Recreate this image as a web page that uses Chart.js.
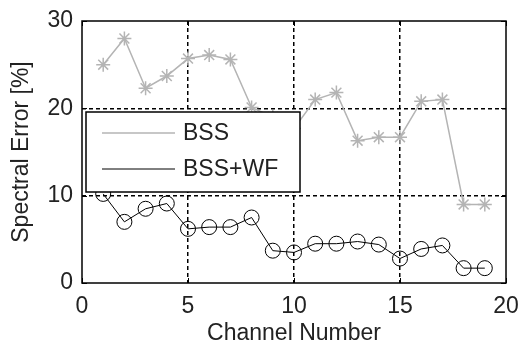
<!DOCTYPE html>
<html>
<head>
<meta charset="utf-8">
<script src="https://cdn.jsdelivr.net/npm/chart.js@4"></script>
<style>
  body { margin: 0; background: #fff; }
</style>
</head>
<body>
<canvas id="errChart" width="518" height="345"></canvas>
<script>
const channels = [1, 2, 3, 4, 5, 6, 7, 8, 9, 10, 11, 12, 13, 14, 15, 16, 17, 18, 19];
const bss = [25.0, 28.0, 22.3, 23.7, 25.7, 26.1, 25.6, 20.1, 19.0, 17.7, 21.0, 21.8, 16.3, 16.7, 16.7, 20.8, 21.0, 9.0, 9.0];
const bssWf = [10.2, 7.0, 8.5, 9.1, 6.2, 6.4, 6.4, 7.5, 3.7, 3.5, 4.5, 4.5, 4.75, 4.4, 2.8, 3.9, 4.3, 1.7, 1.7];
const xTicks = [0, 5, 10, 15, 20];
const yTicks = [0, 10, 20, 30];

const FONT = 'Liberation Sans, Arial, sans-serif';
const GRAY = '#b4b4b4';
const TEXT = '#222';

const toPoints = (vals) => channels.map((c, i) => ({ x: c, y: vals[i] }));

// box round the axes, inner tick marks and the legend box
const boxPlugin = {
    id: 'matlabBox',
    afterDatasetsDraw(chart) {
        const { ctx, chartArea: a, scales } = chart;
        ctx.save();
        ctx.strokeStyle = '#000';
        ctx.lineWidth = 1;
        ctx.setLineDash([]);
        ctx.beginPath();
        xTicks.forEach(v => {
            const px = Math.round(scales.x.getPixelForValue(v)) + 0.5;
            ctx.moveTo(px, a.bottom); ctx.lineTo(px, a.bottom - 5);
            ctx.moveTo(px, a.top); ctx.lineTo(px, a.top + 5);
        });
        yTicks.forEach(v => {
            const py = Math.round(scales.y.getPixelForValue(v)) + 0.5;
            ctx.moveTo(a.left, py); ctx.lineTo(a.left + 5, py);
            ctx.moveTo(a.right, py); ctx.lineTo(a.right - 5, py);
        });
        ctx.stroke();
        ctx.lineWidth = 1.5;
        ctx.strokeRect(a.left, a.top, a.right - a.left, a.bottom - a.top);

        // legend
        const lx = a.left + 4, ly = 112, lw = 214, lh = 80;
        ctx.fillStyle = '#fff';
        ctx.fillRect(lx, ly, lw, lh);
        ctx.lineWidth = 1.5;
        ctx.strokeRect(lx, ly, lw, lh);
        ctx.font = '23px ' + FONT;
        ctx.textBaseline = 'middle';
        chart.data.datasets.forEach((ds, i) => {
            const y = ly + 21 + i * 36;
            ctx.strokeStyle = ds.borderColor;
            ctx.lineWidth = ds.borderWidth;
            ctx.beginPath();
            ctx.moveTo(lx + 16, y); ctx.lineTo(lx + 89, y);
            ctx.stroke();
            ctx.fillStyle = TEXT;
            ctx.fillText(ds.label, lx + 97, y + 1);
        });
        ctx.restore();
    }
};

const gridColor = (edge) => (c) => (c.tick && edge.includes(c.tick.value)) ? 'rgba(0,0,0,0)' : '#000';

new Chart(document.getElementById('errChart'), {
    type: 'line',
    data: {
        datasets: [
            {
                label: 'BSS',
                data: toPoints(bss),
                borderColor: GRAY,
                backgroundColor: 'rgba(0,0,0,0)',
                borderWidth: 1.5,
                pointStyle: 'star',
                pointRadius: 7,
                pointBorderWidth: 1.5,
                tension: 0
            },
            {
                label: 'BSS+WF',
                data: toPoints(bssWf),
                borderColor: '#000',
                backgroundColor: 'rgba(0,0,0,0)',
                borderWidth: 1,
                pointStyle: 'circle',
                pointRadius: 7.5,
                pointBorderWidth: 1,
                tension: 0
            }
        ]
    },
    options: {
        responsive: false,
        animation: false,
        layout: { padding: { left: 0, right: 12, top: 21, bottom: 0 } },
        plugins: { legend: { display: false }, tooltip: { enabled: false } },
        scales: {
            x: {
                type: 'linear',
                min: 0,
                max: 20,
                afterBuildTicks: (s) => { s.ticks = xTicks.map(v => ({ value: v })); },
                ticks: { color: TEXT, font: { family: FONT, size: 23 }, padding: 10, maxRotation: 0 },
                grid: { color: gridColor([0, 20]), drawTicks: false, lineWidth: 1.5 },
                border: { display: false, dash: [4, 3] },
                title: { display: true, text: 'Channel Number', color: TEXT, font: { family: FONT, size: 23, lineHeight: 1 }, padding: 0 },
                afterFit: (s) => { s.height = 62; s.paddingLeft = 0; s.paddingRight = 0; }
            },
            y: {
                min: 0,
                max: 30,
                afterBuildTicks: (s) => { s.ticks = yTicks.map(v => ({ value: v })); },
                ticks: { color: TEXT, font: { family: FONT, size: 23 }, padding: 9 },
                grid: { color: gridColor([0, 30]), drawTicks: false, lineWidth: 1.5 },
                border: { display: false, dash: [4, 3] },
                title: { display: true, text: 'Spectral Error [%]', color: TEXT, font: { family: FONT, size: 23 }, padding: { top: 8, bottom: 0 } },
                afterFit: (s) => { s.width = 82; s.paddingTop = 0; s.paddingBottom = 0; }
            }
        }
    },
    plugins: [boxPlugin]
});
</script>
</body>
</html>
